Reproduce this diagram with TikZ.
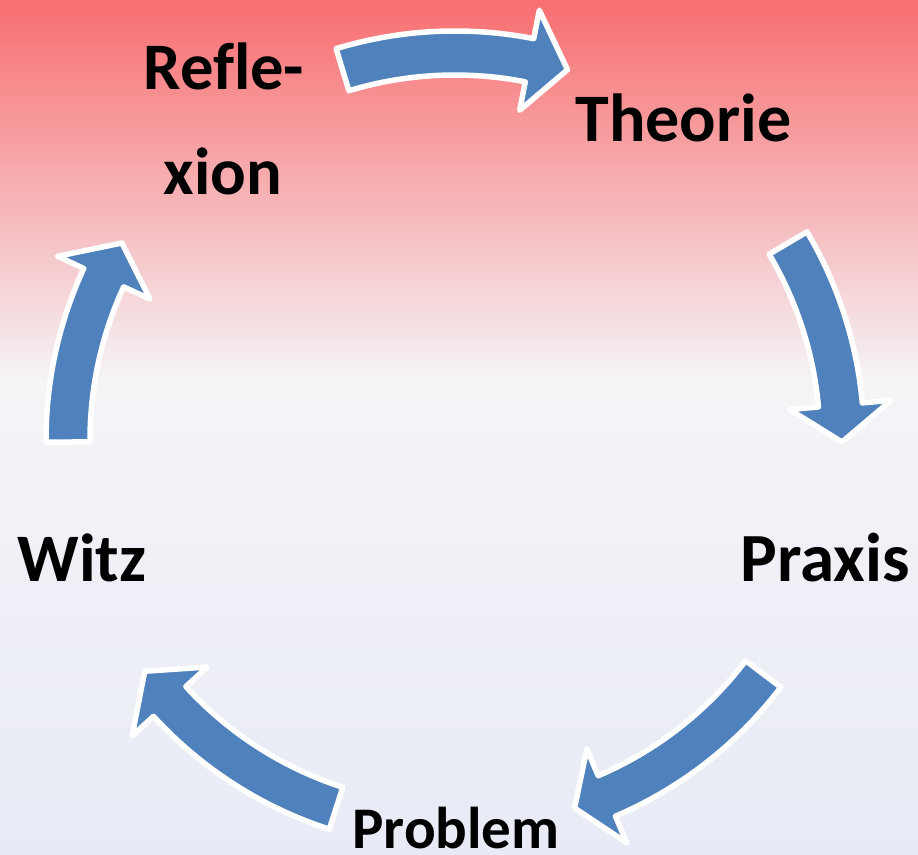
\documentclass[tikz,border=0pt]{standalone}
\usepackage{fontspec}
\setmainfont{Carlito}
\definecolor{bgtop}{RGB}{248,110,112}
\definecolor{bgmid}{RGB}{245,244,247}
\definecolor{bgbot}{RGB}{232,235,246}
\definecolor{arrblue}{RGB}{79,129,189}
\tikzset{
  lbl/.style={inner sep=0pt, anchor=base, text=black, font=\bfseries},
  cyc/.style={fill=arrblue, draw=white, line width=5.5pt, line join=round}
}
\newcommand\cycarr[3]{%
  \path[cyc] (#1:409pt) arc[start angle=#1, end angle=#2, radius=409pt]
    -- (#2:438pt) -- (#3:387pt) -- (#2:336pt) -- (#2:365pt)
    arc[start angle=#2, end angle=#1, radius=365pt] -- cycle;}
\begin{document}
\begin{tikzpicture}[x=1pt,y=1pt]
\useasboundingbox (0,0) rectangle (918,854);
\shade[top color=bgtop, bottom color=bgmid] (0,474) rectangle (918,854);
\shade[top color=bgmid, bottom color=bgbot] (0,0) rectangle (918,474.5);
\begin{scope}[shift={(455pt,414pt)}]
  \cycarr{106.9}{78.9}{73.1}
  \cycarr{30.6}{5.2}{-0.3}
  \cycarr{-37.2}{-66.9}{-72}
  \cycarr{-107.9}{-137.5}{-143.3}
  \cycarr{180.3}{155.2}{149.4}
\end{scope}
\node[lbl, font=\bfseries\fontsize{66.5}{80}\selectfont] (refl1) at (224,764) {Ref\kern0pt le-};
\node[lbl, font=\bfseries\fontsize{66.5}{80}\selectfont] (refl2) at (223,659) {xion};
\node[lbl, font=\bfseries\fontsize{68}{82}\selectfont] (theo) at (683.5,712) {Theorie};
\node[lbl, font=\bfseries\fontsize{69}{83}\selectfont] (prax) at (825,272) {Praxis};
\node[lbl, font=\bfseries\fontsize{68}{82}\selectfont] (witz) at (82,272) {Witz};
\node[lbl, font=\bfseries\fontsize{59}{71}\selectfont] (prob) at (456,6) {Problem};
\end{tikzpicture}
\end{document}
